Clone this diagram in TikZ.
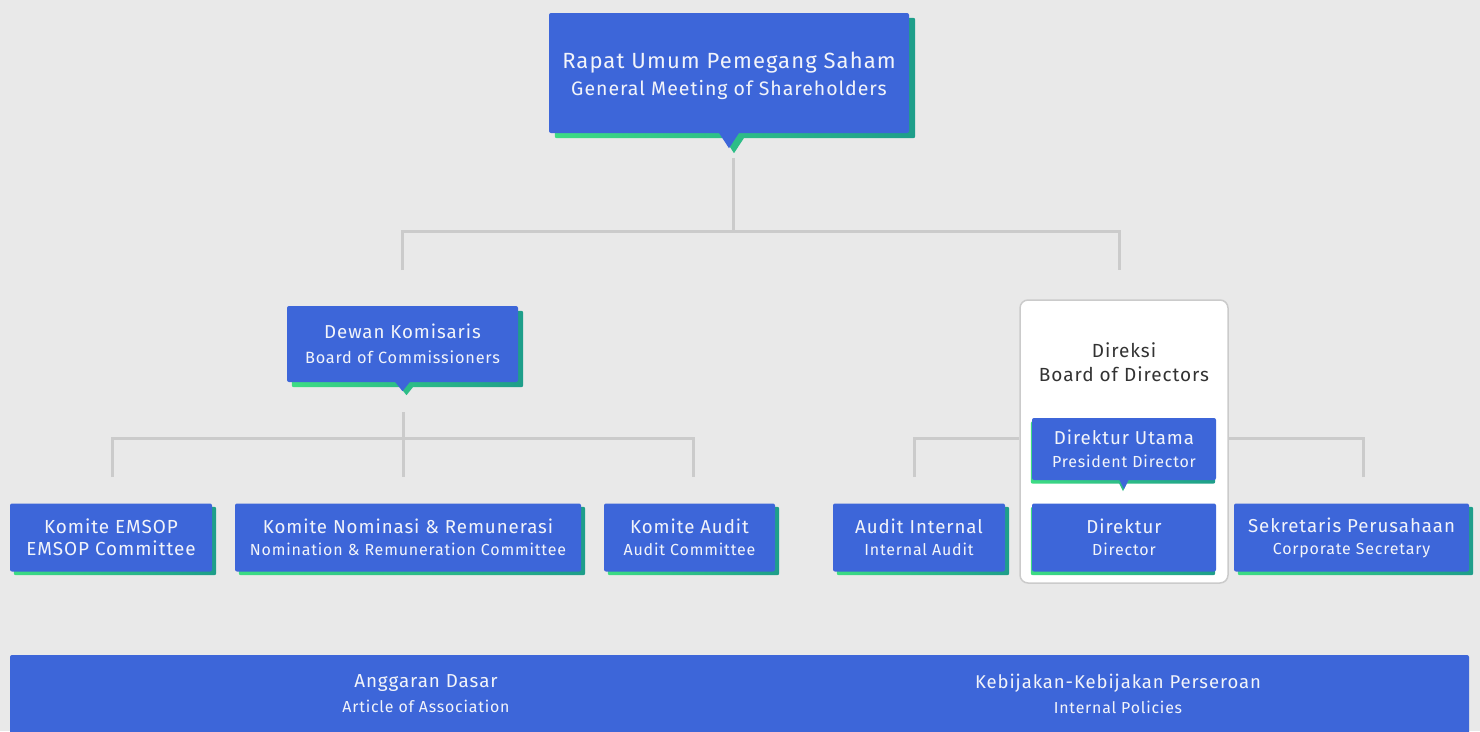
\documentclass[tikz,border=0pt]{standalone}
\usepackage{fontspec}
\setmainfont[LetterSpace=5]{Fira Sans}
\definecolor{bgc}{HTML}{E9E9E9}
\definecolor{boxblue}{HTML}{3D66D9}
\definecolor{lnc}{HTML}{CBCBCB}
\definecolor{shgA}{HTML}{3DDC84}
\definecolor{shgB}{HTML}{1E9E8A}
\definecolor{txw}{HTML}{F2F4FA}
\definecolor{txd}{HTML}{333333}
\pgfdeclarelayer{bglayer}
\pgfdeclarelayer{linelayer}
\pgfdeclarelayer{wlayer}
\pgfdeclarelayer{shlayer}
\pgfsetlayers{bglayer,linelayer,wlayer,shlayer,main}
\newcommand{\fs}[2]{\fontsize{#1}{#2}\selectfont}
\tikzset{
  orgbox/.style={fill=boxblue, rounded corners=2pt, inner sep=0pt, text=txw, align=center},
  orgline/.style={draw=lnc, line width=3pt},
  whitebox/.style={fill=white, draw=lnc, line width=1.5pt, rounded corners=8pt, inner sep=0pt},
  shadowfill/.style={left color=shgA, right color=shgB, rounded corners=2pt},
}
\newcommand{\boxshadow}[3]{%
  \begin{pgfonlayer}{shlayer}
  \shade[shadowfill] ([shift={(#2,#3)}]#1.north west) rectangle ([shift={(#2,#3)}]#1.south east);
  \end{pgfonlayer}}
% node, half width, depth, shadow dx, shadow dy
\newcommand{\boxpointer}[5]{%
  \begin{pgfonlayer}{shlayer}
  \fill[shgA!50!shgB] ([shift={(-#2+#4,-1+#5)}]#1.south) -- ([shift={(#2+#4,-1+#5)}]#1.south) -- ([shift={(#4,#3+#5)}]#1.south) -- cycle;
  \end{pgfonlayer}
  \fill[boxblue] ([shift={(-#2,-1)}]#1.south) -- ([shift={(#2,-1)}]#1.south) -- ([shift={(0,#3)}]#1.south) -- cycle;}
\begin{document}
\begin{tikzpicture}[x=1pt,y=-1pt]
\useasboundingbox (0,0) rectangle (1480,731);
\begin{pgfonlayer}{bglayer}
\fill[bgc] (0,0) rectangle (1480,731);
\end{pgfonlayer}

% top box
\node[orgbox, minimum width=360pt, minimum height=120pt, font=\fs{19.5}{27}] (rups) at (729,73)
  {\rule{0pt}{23pt}{\fs{22}{27}Rapat Umum Pemegang Saham}\\General Meeting of Shareholders};
\boxshadow{rups}{6}{5}
\boxpointer{rups}{10.5}{15}{5}{5}

% board of commissioners
\node[orgbox, minimum width=231pt, minimum height=76pt, font=\fs{16.3}{25}] (dk) at (402.5,344)
  {{\fs{18.7}{25}Dewan Komisaris}\\Board of Commissioners};
\boxshadow{dk}{5}{5}
\boxpointer{dk}{8}{9}{4}{4}

% committees
\node[orgbox, minimum width=202pt, minimum height=68pt, font=\fs{18.9}{22}] (emsop) at (111,537.5)
  {Komite EMSOP\\EMSOP Committee};
\node[orgbox, minimum width=346pt, minimum height=68pt, font=\fs{16}{22}] (knr) at (408,537.5)
  {{\fs{18.7}{22}Komite Nominasi \& Remunerasi}\\Nomination \& Remuneration Committee};
\node[orgbox, minimum width=171pt, minimum height=68pt, font=\fs{16}{22}] (kaud) at (689.5,537.5)
  {{\fs{18.7}{22}Komite Audit}\\Audit Committee};
\node[orgbox, minimum width=172pt, minimum height=68pt, font=\fs{16}{22}] (ai) at (919,537.5)
  {{\fs{18.7}{22}Audit Internal}\\Internal Audit};
\node[orgbox, minimum width=235pt, minimum height=68pt, font=\fs{16}{22}] (sek) at (1351.5,537.5)
  {{\fs{18.7}{22}Sekretaris Perusahaan}\\Corporate Secretary};
\foreach \n in {emsop,knr,kaud,ai,sek} {\boxshadow{\n}{4}{3.5}}

% board of directors
\begin{pgfonlayer}{wlayer}
\node[whitebox, minimum width=208pt, minimum height=283pt] (bod) at (1124,441.5) {};
\node[text=txd, align=center, font=\fs{19}{24}] (bodlbl) at (1124,362) {Direksi\\Board of Directors};
\end{pgfonlayer}
\node[orgbox, minimum width=184pt, minimum height=62pt, font=\fs{16}{23}] (du) at (1124,449)
  {{\fs{18.7}{23}Direktur Utama}\\President Director};
\node[orgbox, minimum width=184pt, minimum height=68pt, font=\fs{16}{22}] (dir) at (1124,537.5)
  {{\fs{18.7}{22}Direktur}\\Director};
\boxshadow{du}{-1}{3.5}
\boxshadow{dir}{-1}{3.5}
\boxpointer{du}{5}{9}{-1}{2}

% bottom bar
\node[orgbox, minimum width=1459pt, minimum height=90pt] (bar) at (739.5,700) {};
\node[text=txw, align=center, font=\fs{15.9}{25}] (ad) at (426,694)
  {{\fs{18.8}{25}Anggaran Dasar}\\Article of Association};
\node[text=txw, align=center, font=\fs{15.9}{25}] (kp) at (1118,694)
  {{\fs{18.5}{25}Kebijakan-Kebijakan Perseroan}\\Internal Policies};

% connectors
\coordinate (c0) at (733,158);
\coordinate (c1) at (733,231);
\coordinate (c2) at (402,270);
\coordinate (c3) at (1119,270);
\coordinate (d0) at (403,412);
\coordinate (d1) at (403,438);
\coordinate (d2) at (112,477);
\coordinate (d3) at (403,477);
\coordinate (d4) at (693,477);
\coordinate (e1) at (914,477);
\coordinate (e2) at (1363,477);
\begin{pgfonlayer}{linelayer}
\draw[orgline] (c0) -- (c1);
\draw[orgline] (c2) |- (c1) -| (c3);
\draw[orgline] (d0) -- (d3);
\draw[orgline] (d2) |- (d1) -| (d4);
\draw[orgline] (e1) |- (bod.west |- d1);
\draw[orgline] (e2) |- (bod.east |- d1);
\end{pgfonlayer}
\end{tikzpicture}
\end{document}
